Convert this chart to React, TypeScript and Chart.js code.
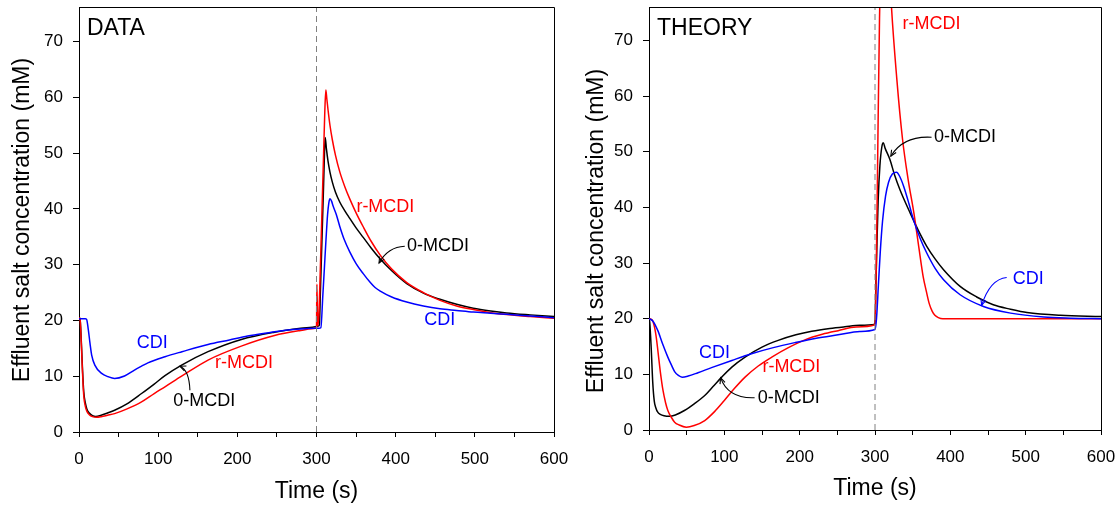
import React, { useEffect, useRef } from "react";
import { Chart, registerables } from "chart.js";

Chart.register(...registerables);

const FONT = '"Liberation Sans", Arial, Helvetica, sans-serif';

// ---------- axis ticks ----------
const X_TICKS = [0, 50, 100, 150, 200, 250, 300, 350, 400, 450, 500, 550, 600];
const X_TICK_LABELS = ["0", "", "100", "", "200", "", "300", "", "400", "", "500", "", "600"];
const Y_TICKS = [0, 10, 20, 30, 40, 50, 60, 70];
const SWITCH_TIME = 300;

const X_TITLE = "Time (s)";
const Y_TITLE = "Effluent salt concentration (mM)";

// ---------- DATA panel ----------
const dataCdiT = [0, 8, 9.6, 11.8, 13.9, 16, 20, 28.6, 37, 45, 57.5, 70, 79, 87, 108.6, 130, 163, 190, 213, 240, 264, 285, 298, 303, 305.5, 308, 310, 312, 314, 315.5, 317, 319, 321, 325, 329.5, 335, 342, 350, 359, 368, 374, 380, 395, 414, 435, 456, 477, 498, 520, 540, 570, 600];
const dataCdiC = [20.3, 20.3, 20.2, 18.3, 15.9, 13.8, 12.0, 10.5, 9.9, 9.6, 10.05, 11.1, 11.8, 12.4, 13.5, 14.4, 15.7, 16.5, 17.2, 17.8, 18.3, 18.5, 18.6, 18.6, 18.7, 24.5, 29.5, 34.5, 39, 41, 41.8, 41.4, 40.5, 39.0, 36.8, 34.5, 32.3, 30.2, 28.4, 26.8, 25.9, 25.3, 24.2, 23.3, 22.6, 22.1, 21.8, 21.5, 21.3, 21.1, 20.8, 20.5];

const dataZeroT = [0, 1.3, 3, 4.5, 6, 8, 10, 13, 17, 21, 28, 36, 45, 60, 79, 95, 108.6, 129.6, 163, 205, 247, 280, 300, 302, 303.6, 305, 307, 309, 310.2, 311, 312.5, 314.5, 317, 320, 324, 329.5, 336, 342, 350, 359, 369, 380, 395, 414, 435, 456, 477, 498, 520, 540, 570, 600];
const dataZeroC = [20.5, 20.3, 16, 11, 7.2, 5.2, 4.1, 3.4, 2.95, 2.8, 3.0, 3.4, 3.9, 5.0, 6.9, 8.6, 10.1, 12.0, 14.4, 16.6, 17.9, 18.6, 18.9, 19.0, 19.2, 25.5, 35, 44.5, 50.5, 52.8, 50.8, 48.6, 46.6, 44.8, 43.0, 41.2, 39.6, 38.3, 36.6, 34.9, 33.0, 31.1, 28.9, 26.6, 24.9, 23.8, 22.9, 22.2, 21.7, 21.35, 21.0, 20.7];

const dataRT = [0, 1.3, 3, 4.5, 6, 8, 10, 13, 17, 22, 28, 36, 45, 60, 79, 95, 108.6, 129.6, 163, 205, 247, 280, 299, 300, 300.5, 301.5, 303, 305, 307, 309, 310.5, 311.8, 313, 314.7, 317, 320, 324, 329.5, 336, 342, 350, 359, 369, 380, 395, 414, 435, 456, 477, 498, 520, 540, 570, 600];
const dataRC = [20.5, 20.3, 15.5, 10.5, 6.5, 4.6, 3.7, 3.1, 2.75, 2.65, 2.75, 3.0, 3.3, 4.1, 5.4, 6.9, 8.1, 10.0, 12.9, 15.4, 17.3, 18.2, 18.6, 18.7, 26.5, 19, 21, 30, 40, 50, 57.5, 61.3, 59.8, 57.6, 55.0, 52.4, 49.6, 46.6, 43.9, 41.8, 39.3, 36.8, 34.2, 31.8, 29.2, 26.8, 25.0, 23.6, 22.6, 21.95, 21.4, 21.05, 20.7, 20.4];

// ---------- THEORY panel ----------
const thCdiT = [0, 5, 11.6, 18, 25, 30, 34, 39, 44, 52, 65, 83, 110, 136, 165, 193.5, 222, 251, 280, 300, 302, 304.5, 307, 310, 314, 318, 323, 328.6, 333, 338, 345, 351, 360, 368.7, 380, 391, 413, 444, 480, 524, 560, 600];
const thCdiC = [20, 19.6, 17.9, 15.5, 13.1, 11.6, 10.5, 9.8, 9.5, 9.7, 10.3, 11.2, 12.5, 13.7, 14.8, 15.7, 16.5, 17.1, 17.7, 18.05, 20, 26, 32, 37.5, 42, 44.5, 46, 46.3, 45.5, 43.8, 40.7, 37.8, 34.4, 31.8, 29.0, 27.0, 24.3, 22.2, 21.0, 20.3, 20.1, 20.0];

const thZeroT = [0, 1, 3, 5, 7, 9, 11.6, 15, 20, 27, 35, 47, 60, 74, 85, 96.5, 110, 127.5, 150, 171.5, 195, 216, 240, 260, 280, 300, 301, 302.5, 304.2, 306.5, 309, 311, 313.5, 319.8, 326, 333, 346.6, 357, 368.7, 380, 391, 413, 435, 457, 480, 501.7, 546, 600];
const thZeroC = [20, 19.3, 14.5, 8.5, 5.2, 4.0, 3.2, 2.8, 2.55, 2.45, 2.7, 3.5, 4.7, 6.2, 7.8, 9.5, 11.3, 13.1, 14.9, 16.1, 17.1, 17.75, 18.25, 18.55, 18.8, 19.0, 25, 33, 41.3, 47.5, 50.8, 51.6, 50.6, 48.6, 45.8, 43.2, 39, 36, 33, 30.7, 28.8, 25.8, 23.9, 22.5, 21.7, 21.1, 20.6, 20.4];

const thRT = [0, 4, 7.6, 10, 12, 15, 18.6, 22, 25, 30, 34, 40, 49.5, 60, 74, 87, 100, 113, 127.5, 145, 163, 185, 207, 230, 251, 275, 300, 302, 304, 306, 308, 310.5, 313, 316, 319, 321, 329, 336.6, 344, 351.6, 358, 364, 368, 372, 376, 379.5, 384, 390, 450, 600];
const thRC = [20, 19.8, 18.3, 16.3, 14, 10.5, 7.1, 4.9, 3.5, 2.2, 1.4, 0.9, 0.5, 0.8, 1.7, 3.3, 5.3, 7.4, 9.5, 11.5, 13.1, 14.8, 16.2, 17.2, 17.85, 18.5, 18.9, 32, 54, 74, 88, 96, 97, 92, 84, 78, 63, 52.2, 45, 39.0, 33, 27.5, 25, 22.7, 21.3, 20.6, 20.2, 20.0, 20.0, 20.0];

// ---------- annotations (data coordinates) ----------
type Label = { text: string; x: number; y: number; color: string };
type Arrow = { from: [number, number]; ctrl: [number, number]; to: [number, number]; color: string };

const dataLabels: Label[] = [
  { text: "CDI", x: 92.5, y: 15.9, color: "#0000ff" },
  { text: "r-MCDI", x: 208.3, y: 12.4, color: "#ff0000" },
  { text: "0-MCDI", x: 158.2, y: 5.6, color: "#000000" },
  { text: "r-MCDI", x: 387, y: 40.4, color: "#ff0000" },
  { text: "0-MCDI", x: 453.6, y: 33.3, color: "#000000" },
  { text: "CDI", x: 455.7, y: 20.05, color: "#0000ff" },
];
const dataArrows: Arrow[] = [
  { from: [140.1, 7.5], ctrl: [139.2, 11.1], to: [127.5, 11.8], color: "#000000" },
  { from: [411.5, 33.3], ctrl: [390.4, 33.2], to: [379, 30.3], color: "#000000" },
];

const theoryLabels: Label[] = [
  { text: "CDI", x: 87, y: 13.9, color: "#0000ff" },
  { text: "r-MCDI", x: 189, y: 11.3, color: "#ff0000" },
  { text: "0-MCDI", x: 185.4, y: 5.8, color: "#000000" },
  { text: "r-MCDI", x: 375, y: 73, color: "#ff0000" },
  { text: "0-MCDI", x: 419.6, y: 52.6, color: "#000000" },
  { text: "CDI", x: 503.5, y: 27.2, color: "#0000ff" },
];
const theoryArrows: Arrow[] = [
  { from: [140.2, 5.8], ctrl: [104.8, 5.6], to: [95, 9.4], color: "#000000" },
  { from: [375.1, 52.6], ctrl: [337.4, 52.9], to: [321, 49.2], color: "#000000" },
  { from: [474.8, 27.4], ctrl: [452.6, 27.1], to: [441.6, 22.4], color: "#0000ff" },
];

type Series = { name: string; t: number[]; c: number[]; color: string };

type PanelSpec = {
  title: string;
  yMax: number;
  width: number;
  padRight: number;
  xAxisH: number;
  xTitlePad: number;
  yTitlePos: [number, number];
  series: Series[];
  labels: Label[];
  arrows: Arrow[];
};

const annotPlugin = {
  id: "panelAnnotations",
  afterDatasetsDraw(chart: any, _args: any, opts: any) {
    const { ctx, chartArea } = chart;
    const xs = chart.scales.x;
    const ys = chart.scales.y;
    ctx.save();
    // top and right frame
    ctx.strokeStyle = "#000";
    ctx.lineWidth = 1;
    const l = Math.round(chartArea.left) + 0.5;
    const r = Math.round(chartArea.right) + 0.5;
    const t = Math.round(chartArea.top) + 0.5;
    const b = Math.round(chartArea.bottom) + 0.5;
    ctx.beginPath();
    ctx.moveTo(l, t);
    ctx.lineTo(r, t);
    ctx.lineTo(r, b);
    ctx.stroke();

    // labels
    ctx.font = `18px ${FONT}`;
    ctx.textAlign = "center";
    ctx.textBaseline = "middle";
    for (const lb of opts.labels as Label[]) {
      ctx.fillStyle = lb.color;
      ctx.fillText(lb.text, xs.getPixelForValue(lb.x), ys.getPixelForValue(lb.y));
    }
    // arrows
    ctx.lineWidth = 1.1;
    for (const a of opts.arrows as Arrow[]) {
      const x0 = xs.getPixelForValue(a.from[0]);
      const y0 = ys.getPixelForValue(a.from[1]);
      const cx = xs.getPixelForValue(a.ctrl[0]);
      const cy = ys.getPixelForValue(a.ctrl[1]);
      const x1 = xs.getPixelForValue(a.to[0]);
      const y1 = ys.getPixelForValue(a.to[1]);
      ctx.strokeStyle = a.color;
      ctx.beginPath();
      ctx.moveTo(x0, y0);
      ctx.quadraticCurveTo(cx, cy, x1, y1);
      ctx.stroke();
      const ang = Math.atan2(y1 - cy, x1 - cx);
      const L = 6.5;
      const A = 0.42;
      ctx.beginPath();
      ctx.moveTo(x1 - L * Math.cos(ang - A), y1 - L * Math.sin(ang - A));
      ctx.lineTo(x1, y1);
      ctx.lineTo(x1 - L * Math.cos(ang + A), y1 - L * Math.sin(ang + A));
      ctx.stroke();
    }
    // panel title
    ctx.fillStyle = "#000";
    ctx.font = `23px ${FONT}`;
    ctx.textAlign = "left";
    ctx.textBaseline = "middle";
    ctx.fillText(opts.title, chartArea.left + 8, chartArea.top + 21.5);

    // y axis title
    ctx.save();
    ctx.translate(opts.yTitlePos[0], opts.yTitlePos[1]);
    ctx.rotate(-Math.PI / 2);
    ctx.textAlign = "center";
    ctx.textBaseline = "middle";
    ctx.fillText(Y_TITLE, 0, 0);
    ctx.restore();

    ctx.restore();
  },
};

function makeConfig(p: PanelSpec): any {
  const datasets: any[] = [
    {
      label: "switch",
      data: [
        { x: SWITCH_TIME, y: 0 },
        { x: SWITCH_TIME, y: p.yMax },
      ],
      borderColor: "#808080",
      borderWidth: 1,
      borderDash: [6, 4],
      pointRadius: 0,
      fill: false,
    },
    ...p.series.map((s) => ({
      label: s.name,
      data: s.t.map((t, i) => ({ x: t, y: s.c[i] })),
      borderColor: s.color,
      borderWidth: 1.5,
      pointRadius: 0,
      fill: false,
      cubicInterpolationMode: "monotone",
    })),
  ];
  return {
    type: "line",
    data: { datasets },
    options: {
      responsive: false,
      animation: false,
      events: [],
      layout: { padding: { left: 0, top: 7, right: p.padRight, bottom: 0 } },
      plugins: {
        legend: { display: false },
        tooltip: { enabled: false },
        title: { display: false },
        panelAnnotations: {
          title: p.title,
          labels: p.labels,
          arrows: p.arrows,
          yTitlePos: p.yTitlePos,
        },
      },
      scales: {
        x: {
          type: "linear",
          min: 0,
          max: 600,
          afterBuildTicks: (s: any) => {
            s.ticks = X_TICKS.map((v) => ({ value: v }));
          },
          afterFit: (s: any) => {
            s.height = p.xAxisH;
            s.paddingLeft = 0;
            s.paddingRight = 0;
          },
          ticks: {
            autoSkip: false,
            maxRotation: 0,
            minRotation: 0,
            padding: 12,
            color: "#000",
            font: { family: FONT, size: 17 },
            callback: (v: number) => {
              const i = X_TICKS.indexOf(v);
              return i >= 0 ? X_TICK_LABELS[i] : "";
            },
          },
          grid: {
            display: true,
            drawOnChartArea: false,
            drawTicks: true,
            tickLength: 5,
            tickColor: "#000",
            color: "#000",
          },
          border: { display: true, color: "#000", width: 1 },
          title: {
            display: true,
            text: X_TITLE,
            color: "#000",
            font: { family: FONT, size: 23 },
            padding: { top: 0, bottom: p.xTitlePad },
          },
        },
        y: {
          type: "linear",
          min: 0,
          max: p.yMax,
          afterBuildTicks: (s: any) => {
            s.ticks = Y_TICKS.map((v) => ({ value: v }));
          },
          afterFit: (s: any) => {
            s.width = 79;
            s.paddingTop = 0;
            s.paddingBottom = 0;
          },
          ticks: {
            padding: 10,
            color: "#000",
            font: { family: FONT, size: 17 },
            callback: (v: number) => String(v),
          },
          grid: {
            display: true,
            drawOnChartArea: false,
            drawTicks: true,
            tickLength: 6,
            tickColor: "#000",
            color: "#000",
          },
          border: { display: true, color: "#000", width: 1 },
        },
      },
    },
    plugins: [annotPlugin],
  };
}

const DATA_PANEL: PanelSpec = {
  title: "DATA",
  yMax: 76.2,
  width: 570,
  padRight: 16,
  xAxisH: 76,
  xTitlePad: 3,
  yTitlePos: [22.5, 220],
  series: [
    { name: "CDI", t: dataCdiT, c: dataCdiC, color: "#0000ff" },
    { name: "r-MCDI", t: dataRT, c: dataRC, color: "#ff0000" },
    { name: "0-MCDI", t: dataZeroT, c: dataZeroC, color: "#000000" },
  ],
  labels: dataLabels,
  arrows: dataArrows,
};

const THEORY_PANEL: PanelSpec = {
  title: "THEORY",
  yMax: 76,
  width: 550,
  padRight: 19,
  xAxisH: 78,
  xTitlePad: 6,
  yTitlePos: [27, 231],
  series: [
    { name: "CDI", t: thCdiT, c: thCdiC, color: "#0000ff" },
    { name: "r-MCDI", t: thRT, c: thRC, color: "#ff0000" },
    { name: "0-MCDI", t: thZeroT, c: thZeroC, color: "#000000" },
  ],
  labels: theoryLabels,
  arrows: theoryArrows,
};

function Panel({ spec, left }: { spec: PanelSpec; left: number }) {
  const ref = useRef<HTMLCanvasElement | null>(null);
  useEffect(() => {
    if (!ref.current) return;
    const chart = new Chart(ref.current, makeConfig(spec));
    return () => chart.destroy();
  }, [spec]);
  return (
    <canvas
      ref={ref}
      width={spec.width}
      height={508}
      style={{ position: "absolute", left, top: 0, width: spec.width, height: 508, display: "block" }}
    />
  );
}

export default function App() {
  return (
    <div
      style={{
        position: "absolute",
        left: 0,
        top: 0,
        width: 1120,
        height: 508,
        background: "#ffffff",
        overflow: "hidden",
      }}
    >
      <Panel spec={DATA_PANEL} left={0} />
      <Panel spec={THEORY_PANEL} left={570} />
    </div>
  );
}
